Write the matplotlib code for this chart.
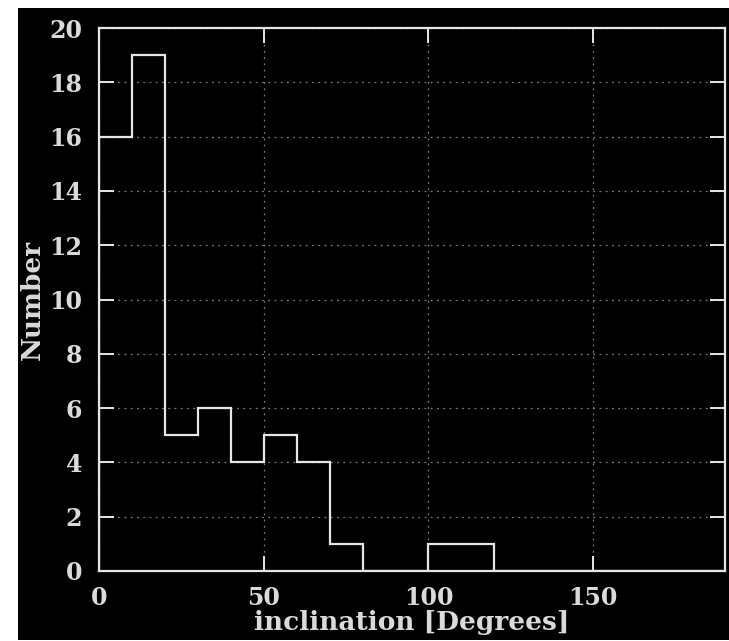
import matplotlib.pyplot as plt
from matplotlib.patches import Rectangle
import numpy as np

# inclination histogram, 10 degree bins
bin_edges = [0, 10, 20, 30, 40, 50, 60, 70, 80, 90, 100,
             110, 120, 130, 140, 150, 160, 170, 180, 190]
counts = [16, 19, 5, 6, 4, 5, 4, 1, 0, 0, 1, 1, 0, 0, 0, 0, 0, 0, 0]
x_ticks = [0, 50, 100, 150]
y_ticks = [0, 2, 4, 6, 8, 10, 12, 14, 16, 18, 20]

fg = '#e6e6e6'
txt = '#dadada'
plt.rcParams['font.family'] = ['DejaVu Serif']

fig = plt.figure(figsize=(7.29, 6.41), dpi=100, facecolor='white')
# black panel behind the axes, leaving a thin white margin top/left
fig.patches.append(Rectangle((18 / 729, 1 / 641), 711 / 729, 632 / 641,
                             transform=fig.transFigure, facecolor='black',
                             edgecolor='none', zorder=-10))
ax = fig.add_axes([99 / 729, 70 / 641, 626 / 729, 543 / 641])
ax.set_facecolor('black')

ax.stairs(counts, bin_edges, baseline=0, color=fg, lw=1.6, zorder=3)

ax.set_xlim(0, 190)
ax.set_ylim(0, 20)
ax.set_xticks(x_ticks)
ax.set_yticks(y_ticks)
ax.grid(True, color='#7a7a7a', lw=0.9, linestyle=(0, (1.5, 3.5)))
ax.tick_params(which='major', direction='in', length=11, width=1.4,
               color=fg, labelcolor=txt, labelsize=17,
               top=True, right=True)
ax.tick_params(axis='x', pad=11)
ax.tick_params(axis='y', pad=12)
for lab in ax.get_xticklabels() + ax.get_yticklabels():
    lab.set_fontweight('bold')
for s in ax.spines.values():
    s.set_color(fg)
    s.set_linewidth(1.6)

ax.set_xlabel('inclination [Degrees]', color=txt, fontsize=19,
              fontweight='bold', labelpad=0)
ax.set_ylabel('Number', color=txt, fontsize=19, fontweight='bold',
              labelpad=3)

fig.savefig('out.png', dpi=100, facecolor='white')
